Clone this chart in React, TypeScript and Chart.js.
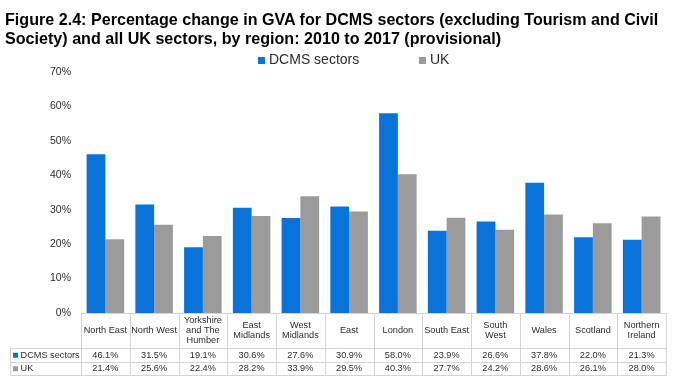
import React, { useEffect, useRef } from 'react';
import { Chart, registerables } from 'chart.js';

Chart.register(...registerables);

const categories = [
  'North East', 'North West', 'Yorkshire and The Humber', 'East Midlands', 'West Midlands',
  'East', 'London', 'South East', 'South West', 'Wales', 'Scotland', 'Northern Ireland',
];
const categoryLabelLines = [
  ['North East'], ['North West'], ['Yorkshire', 'and The', 'Humber'], ['East', 'Midlands'],
  ['West', 'Midlands'], ['East'], ['London'], ['South East'], ['South', 'West'], ['Wales'],
  ['Scotland'], ['Northern', 'Ireland'],
];
const dcmsValues = [46.1, 31.5, 19.1, 30.6, 27.6, 30.9, 58.0, 23.9, 26.6, 37.8, 22.0, 21.3];
const ukValues = [21.4, 25.6, 22.4, 28.2, 33.9, 29.5, 40.3, 27.7, 24.2, 28.6, 26.1, 28.0];
const seriesNames = ['DCMS sectors', 'UK'];
const yMin = 0;
const yMax = 70;
const yStep = 10;
const titleLines = [
  'Figure 2.4: Percentage change in GVA for DCMS sectors (excluding Tourism and Civil',
  'Society) and all UK sectors, by region: 2010 to 2017 (provisional)',
];

const BLUE = '#0A73DA';
const GREY = '#9B9B9B';
const COLORS = [BLUE, GREY];
const FONT = "'Liberation Sans', Arial, sans-serif";
const TEXT = '#2B2B2B';
const LINE = '#D4D4D4';
const TITLE_WIDTH = 653;

const legendPlugin = {
  id: 'customLegend',
  afterDraw(chart: any) {
    const { ctx } = chart;
    ctx.save();
    ctx.font = `14px ${FONT}`;
    ctx.textBaseline = 'middle';
    ctx.textAlign = 'left';
    const positions = [258, 419];
    const cy = 60.5;
    seriesNames.forEach((name, i) => {
      const x = positions[i];
      ctx.fillStyle = COLORS[i];
      ctx.fillRect(x, cy - 3.5, 7, 7);
      ctx.fillStyle = TEXT;
      ctx.fillText(name, x + 11, cy);
    });
    ctx.restore();
  },
};

const tablePlugin = {
  id: 'dataTable',
  afterDraw(chart: any) {
    const { ctx, chartArea } = chart;
    const xs = chart.scales.x;
    const n = categories.length;
    const cw = (chartArea.right - chartArea.left) / n;
    const top = chartArea.bottom;
    const headerBottom = top + 35;
    const rowH = 13.5;
    const tableLeft = 10;
    const right = chartArea.right;
    const rows = [dcmsValues, ukValues];
    const bottom = headerBottom + rowH * rows.length;
    const px = (v: number) => Math.round(v) + 0.5;

    ctx.save();
    ctx.strokeStyle = LINE;
    ctx.lineWidth = 1;
    ctx.beginPath();
    ctx.moveTo(px(chartArea.left), px(top));
    ctx.lineTo(px(right), px(top));
    for (let r = 0; r <= rows.length; r++) {
      const y = px(headerBottom + r * rowH);
      ctx.moveTo(px(tableLeft), y);
      ctx.lineTo(px(right), y);
    }
    ctx.moveTo(px(tableLeft), px(headerBottom));
    ctx.lineTo(px(tableLeft), px(bottom));
    for (let i = 0; i <= n; i++) {
      const x = px(chartArea.left + i * cw);
      ctx.moveTo(x, px(top));
      ctx.lineTo(x, px(bottom));
    }
    ctx.stroke();

    ctx.fillStyle = TEXT;
    ctx.font = `9.2px ${FONT}`;
    ctx.textAlign = 'center';
    ctx.textBaseline = 'middle';
    const headerMid = (top + headerBottom) / 2;
    const lh = 10.3;
    categoryLabelLines.forEach((lines, i) => {
      const cx = xs.getPixelForValue(i);
      const start = headerMid - ((lines.length - 1) * lh) / 2;
      lines.forEach((l, j) => ctx.fillText(l, cx, start + j * lh));
    });
    rows.forEach((vals, r) => {
      const cy = headerBottom + r * rowH + rowH / 2 + 0.5;
      vals.forEach((v, i) => {
        ctx.fillText(v.toFixed(1) + '%', xs.getPixelForValue(i), cy);
      });
      ctx.fillStyle = COLORS[r];
      ctx.fillRect(tableLeft + 3, cy - 2.5, 5, 5);
      ctx.fillStyle = TEXT;
      ctx.textAlign = 'left';
      ctx.fillText(seriesNames[r], tableLeft + 10.5, cy);
      ctx.textAlign = 'center';
    });
    ctx.restore();
  },
};

export default function App() {
  const ref = useRef<HTMLCanvasElement | null>(null);
  const titleRef = useRef<HTMLDivElement | null>(null);

  useEffect(() => {
    const el = titleRef.current;
    if (el) {
      const w = el.offsetWidth;
      if (w > 0) el.style.transform = `scaleX(${TITLE_WIDTH / w})`;
    }
  }, []);

  useEffect(() => {
    if (!ref.current) return;
    const chart = new Chart(ref.current, {
      type: 'bar',
      data: {
        labels: categories,
        datasets: [
          { label: seriesNames[0], data: dcmsValues, backgroundColor: BLUE },
          { label: seriesNames[1], data: ukValues, backgroundColor: GREY },
        ],
      },
      options: {
        responsive: false,
        animation: false,
        layout: { padding: { top: 72, bottom: 67, left: 0, right: 11 } },
        datasets: { bar: { categoryPercentage: 0.77, barPercentage: 1.0 } },
        plugins: { legend: { display: false }, title: { display: false }, tooltip: { enabled: false } },
        scales: {
          x: { display: false },
          y: {
            min: yMin,
            max: yMax,
            grid: { display: false, drawTicks: false },
            border: { display: false },
            afterFit: (axis: any) => { axis.width = 81; },
            ticks: {
              stepSize: yStep,
              padding: 10,
              color: TEXT,
              font: { family: FONT, size: 10.5 },
              callback: (v: any) => `${v}%`,
            },
          },
        },
      },
      plugins: [legendPlugin, tablePlugin],
    });
    return () => chart.destroy();
  }, []);

  return (
    <div style={{ position: 'absolute', left: 0, top: 0, width: 677, height: 380, background: '#fff', overflow: 'hidden' }}>
      <canvas ref={ref} width={677} height={380} style={{ position: 'absolute', left: 0, top: 0 }} />
      <div
        ref={titleRef}
        style={{
          position: 'absolute', left: 5, top: 10, fontFamily: FONT,
          fontWeight: 'bold', fontSize: 17, lineHeight: '19px', color: '#000', whiteSpace: 'nowrap',
          transformOrigin: '0 0',
        }}
      >
        {titleLines.map((t, i) => <div key={i}>{t}</div>)}
      </div>
    </div>
  );
}
